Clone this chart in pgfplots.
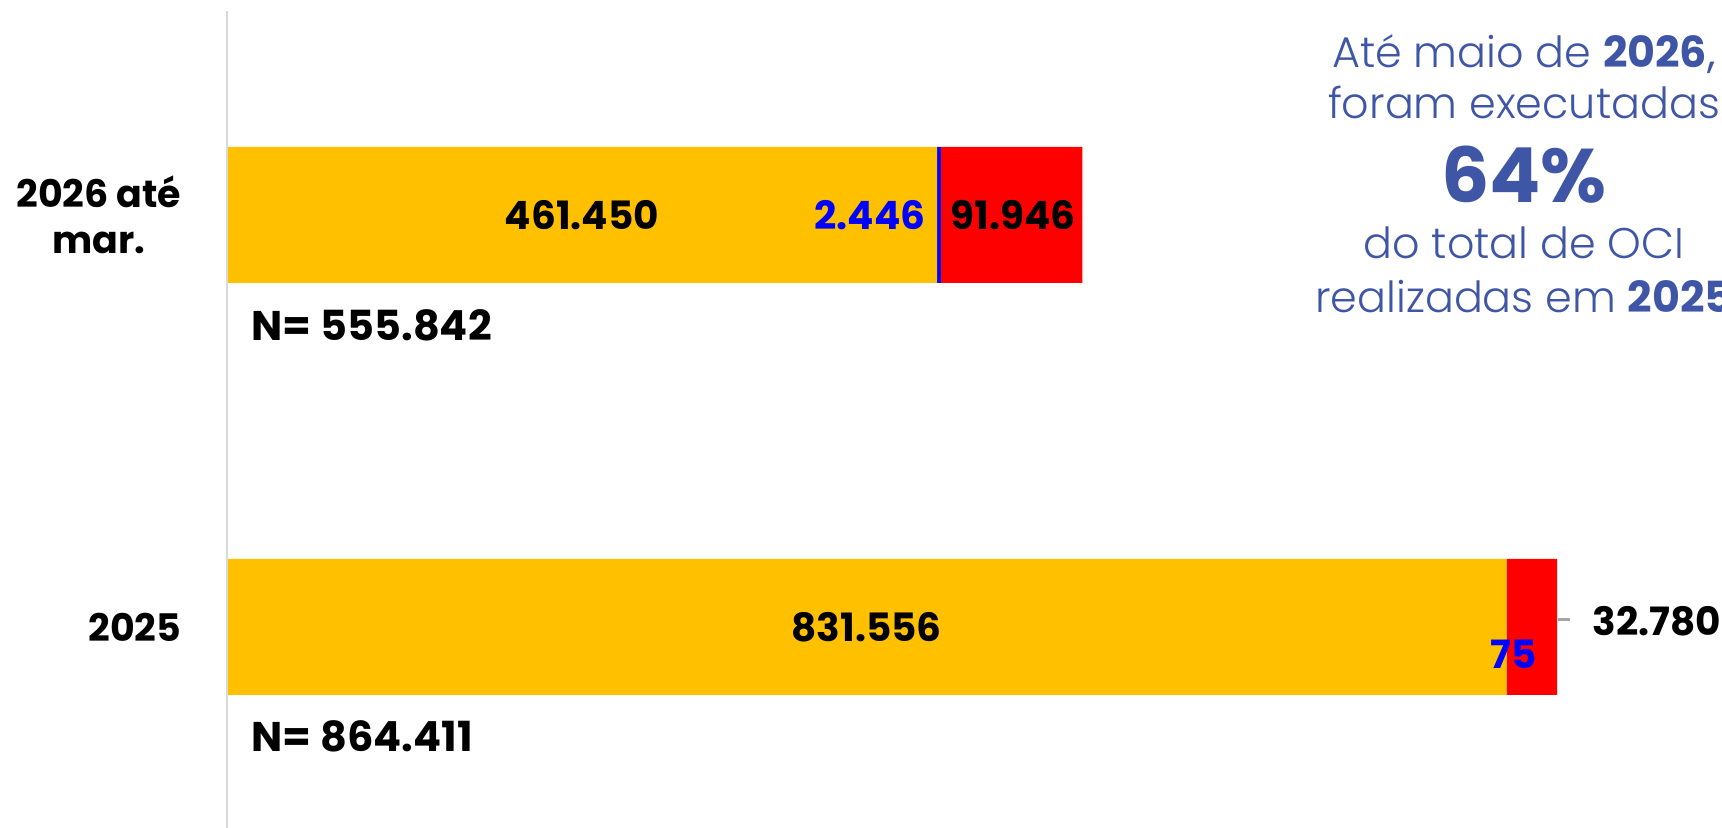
\documentclass[border=0pt]{standalone}
\usepackage{pgfplots}
\pgfplotsset{compat=1.18}
\usepackage{fontspec}
\setmainfont{Poppins}
\newfontfamily\plight{Poppins Light}
\definecolor{cyel}{HTML}{FFC000}
\definecolor{cred}{HTML}{FF0000}
\definecolor{cblue}{HTML}{0000FF}
\definecolor{ctxt}{HTML}{3F56A6}
\definecolor{caxis}{HTML}{D9D9D9}
\newcommand{\lblfont}{\fontsize{11.1}{13}\selectfont\bfseries}
\newcommand{\nfont}{\fontsize{11.8}{14}\selectfont\bfseries}
\newcommand{\catfont}{\fontsize{10.8}{13}\selectfont\bfseries}
\begin{document}
\begin{tikzpicture}
\path[use as bounding box, clip] (0,0) rectangle (17.22,8.28);
\begin{axis}[
  at={(2.27cm,0cm)}, anchor=south west,
  scale only axis, width=14.95cm, height=8.17cm,
  xbar stacked, bar width=0.33,
  xmin=0, xmax=971600, ymin=-0.488, ymax=1.495,
  hide axis,
  clip=false,
]
\addplot[fill=cyel, draw=none] coordinates {(461450,1) (831556,0)};
\addplot[fill=cblue, draw=none] coordinates {(2446,1) (75,0)};
\addplot[fill=cred, draw=none] coordinates {(91946,1) (32780,0)};

\coordinate (axb) at (axis cs:0,-0.488);
\coordinate (axt) at (axis cs:0,1.495);
\coordinate (l1) at (axis cs:230725,1);
\coordinate (l2) at (axis cs:454300,1);
\coordinate (l3) at (axis cs:510869,1);
\coordinate (l4) at (axis cs:415778,0);
\coordinate (l5) at (axis cs:836450,-0.066);
\coordinate (l6) at (axis cs:887150,0.015);
\coordinate (ld1) at (axis cs:865060,0.019);
\coordinate (ld2) at (axis cs:872860,0.019);
\coordinate (n1) at (axis cs:15600,0.731);
\coordinate (n2) at (axis cs:15600,-0.265);
\coordinate (c1) at (axis cs:0,1);
\coordinate (c0) at (axis cs:0,0);
\end{axis}

\draw[caxis, line width=0.8pt] (axb) -- (axt);
\node[font=\lblfont] at (l1) {461.450};
\node[anchor=east, text=cblue, inner sep=0pt, font=\lblfont] at (l2) {2.446};
\node[font=\lblfont] at (l3) {91.946};
\node[font=\lblfont] at (l4) {831.556};
\node[text=cblue, font=\lblfont] at (l5) {75};
\node[anchor=west, inner sep=0pt, font=\lblfont] at (l6) {32.780};
\draw[gray!70, line width=0.8pt] (ld1) -- (ld2);

\node[anchor=west, inner sep=0pt, font=\nfont] at (n1) {N= 555.842};
\node[anchor=west, inner sep=0pt, font=\nfont] at (n2) {N= 864.411};

\node[anchor=east, align=center, inner sep=0pt, xshift=-0.45cm, font=\catfont] at (c1) {2026 até\\mar.};
\node[anchor=east, align=center, inner sep=0pt, xshift=-0.45cm, font=\catfont] at (c0) {2025};

\node[anchor=base, text=ctxt, font=\fontsize{12.2}{14}\selectfont] at (15.24,7.60) {{\plight Até maio de }{\bfseries 2026},};
\node[anchor=base, text=ctxt, font=\fontsize{12.2}{14}\selectfont\plight] at (15.24,7.09) {foram executadas};
\node[anchor=base, text=ctxt, font=\fontsize{21.6}{24}\selectfont\bfseries] at (15.24,6.25) {64\%};
\node[anchor=base, text=ctxt, font=\fontsize{12.2}{14}\selectfont\plight] at (15.24,5.69) {do total de OCI};
\node[anchor=base, text=ctxt, font=\fontsize{12.2}{14}\selectfont] at (15.24,5.15) {{\plight realizadas em }{\bfseries 2025}};
\end{tikzpicture}
\end{document}
